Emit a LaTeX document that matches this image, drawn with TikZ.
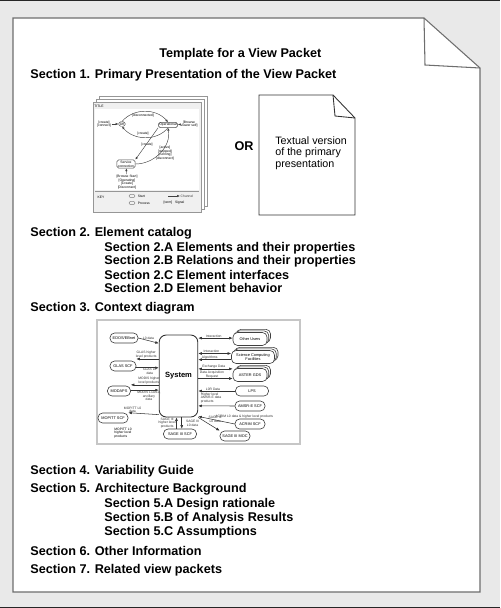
\documentclass[tikz,border=0pt]{standalone}
\usepackage{fontspec}
\setmainfont{Liberation Sans}
\usetikzlibrary{arrows.meta,positioning,shadows,shapes.geometric}
\definecolor{PageGrey}{RGB}{233,233,233}
\definecolor{EdgeGrey}{RGB}{110,110,110}
\definecolor{ThumbGrey}{RGB}{150,150,150}
\tikzset{
  heading/.style={font=\fontsize{7.2}{8}\selectfont\bfseries, anchor=base west,
    inner sep=0pt},
  pageline/.style={draw=EdgeGrey, line width=0.6pt},
  sheet/.style={draw=ThumbGrey, fill=white, line width=0.4pt},
  tinytext/.style={font=\fontsize{1.9}{2.1}\selectfont, inner sep=0.3pt, align=center},
  statebox/.style={draw=black!70, rounded corners=1pt, fill=white, line width=0.25pt,
    font=\fontsize{1.9}{2.1}\selectfont, inner sep=0.6pt, align=center},
  sysbox/.style={draw=black!80, rounded corners=4pt, fill=white, line width=0.5pt,
    minimum width=0.74cm, minimum height=1.64cm, font=\fontsize{4.3}{5}\selectfont\bfseries},
  extbox/.style={draw=black!75, rounded corners=2.6pt, fill=white, line width=0.35pt,
    minimum height=0.2cm, font=\fontsize{2.2}{2.4}\selectfont, align=center, inner sep=0.5pt},
  stacked/.style={double copy shadow={shadow xshift=1pt, shadow yshift=0.9pt}},
  flow/.style={-{Latex[length=2pt,width=1.6pt]}, line width=0.3pt, black!80},
  bothflow/.style={{Latex[length=2pt,width=1.6pt]}-{Latex[length=2pt,width=1.6pt]},
    line width=0.3pt, black!80},
  thinflow/.style={-{Latex[length=1.6pt,width=1.3pt]}, line width=0.25pt, black!75},
  keyshape/.style={draw=black!60, ellipse, minimum width=0.12cm, minimum height=0.07cm,
    inner sep=0pt, line width=0.2pt}
}
\begin{document}
\begin{tikzpicture}[x=0.02cm,y=-0.02cm]
  % backdrop and page
  \fill[PageGrey] (0,0) rectangle (500,608);
  \fill[black!85] (0,0) rectangle (500,1.5);
  \fill[black!85] (0,606.5) rectangle (500,608);
  \draw[pageline, fill=white] (13,18) -- (424,18) -- (480,68) -- (480,592)
    -- (13,592) -- cycle;
  \draw[pageline] (424,18) -- (425,65) -- (480,68);

  % headings
  \node[heading] (title) at (159,58) {Template for a View Packet};
  \node[heading] (sec1) at (30,79) {Section 1. Primary Presentation of the View Packet};
  \node[heading] (sec2) at (30,236.5) {Section 2. Element catalog};
  \node[heading] (sec2a) at (104,251.5) {Section 2.A Elements and their properties};
  \node[heading] (sec2b) at (104,264.5) {Section 2.B Relations and their properties};
  \node[heading] (sec2c) at (104,279) {Section 2.C Element interfaces};
  \node[heading] (sec2d) at (104,292.5) {Section 2.D Element behavior};
  \node[heading] (sec3) at (30,311.5) {Section 3. Context diagram};
  \node[heading] (sec4) at (30,474.5) {Section 4. Variability Guide};
  \node[heading] (sec5) at (30,492.5) {Section 5. Architecture Background};
  \node[heading] (sec5a) at (104,507.5) {Section 5.A Design rationale};
  \node[heading] (sec5b) at (104,521.5) {Section 5.B of Analysis Results};
  \node[heading] (sec5c) at (104,535.5) {Section 5.C Assumptions};
  \node[heading] (sec6) at (30,555.5) {Section 6. Other Information};
  \node[heading] (sec7) at (30,573.5) {Section 7. Related view packets};

  % primary presentation: stacked sheets with a state diagram
  \draw[sheet] (99,96) rectangle (207,206);
  \draw[sheet] (96,99) rectangle (204,209);
  \draw[sheet, fill=gray!12] (93,102) rectangle (201,212);
  \fill[white] (95,109) rectangle (199,190);
  \node[tinytext] (ttl) at (99,106) {TITLE};
  \node[statebox] (off) at (122,124) {Off};
  \node[statebox] (oper) at (168,125) {Operational};
  \node[statebox] (svc) at (126,164) {Service\\connection};
  \node[tinytext] (lin) at (104,124) {[create]\\{}[connect]};
  \node[tinytext] (lout) at (189,124) {[Browse\\Viewer self]};
  \node[tinytext] (ldisc) at (143,116) {[disconnected]};
  \node[tinytext] (lcre) at (143,134) {[create]};
  \node[tinytext] (ldiag) at (147,145) {[create]};
  \node[tinytext] (lact) at (165,153) {[active]\\{}[stopped]\\{}[running]\\{}[disconnect]};
  \node[tinytext] (lbot) at (127,182) {[Browse Start]\\{}[Operating]\\{}[Create]\\{}[Disconnect]};
  \draw[thinflow] (lin) -- (off);
  \draw[thinflow] (off.north) to[out=50,in=130] (oper.north);
  \draw[thinflow] (oper.south) to[out=-130,in=-50] (off.south);
  \draw[thinflow] (lout) -- (oper);
  \draw[thinflow] (oper.south west) -- (svc.north east);
  \draw[thinflow] (svc.east) to[out=0,in=-80] (oper.south);
  \draw[thinflow] (lbot) -- (svc);
  \draw[ThumbGrey, line width=0.3pt] (95,191) -- (199,191);
  \node[tinytext] (key) at (101,197) {KEY};
  \node[keyshape] (kstart) at (132,196) {};
  \node[tinytext, right=1pt of kstart] (kstxt) {Start};
  \node[keyshape] (kproc) at (132,203) {};
  \node[tinytext, right=1pt of kproc] (kptxt) {Process};
  \coordinate (kch) at (168,196);
  \draw[thinflow] (kch) -- ++(12,0) node[tinytext, right] (kctxt) {Channel};
  \node[tinytext] (kterm) at (174,203) {[term]~~~Signal};

  % textual alternative
  \node[font=\fontsize{7.2}{8}\selectfont\bfseries, inner sep=0pt] (or) at (244,146) {OR};
  \draw[line width=0.5pt, draw=black!80, fill=white] (259,95) -- (333,95) -- (355,118)
    -- (355,215) -- (259,215) -- cycle;
  \draw[line width=0.5pt, draw=black!80] (333,95) -- (335,116) -- (355,118);
  \node[font=\fontsize{6.1}{6.6}\selectfont, align=left, anchor=north west,
    inner sep=0pt] (textual) at (275,136) {Textual version\\of the primary\\presentation};

  % context diagram
  \draw[gray!45, fill=white, line width=0.6pt] (97,320) rectangle (300,444);
  \node[sysbox] (sys) at (178.5,376) {System};
  \node[extbox, minimum width=0.56cm] (edos) at (124,338) {EDOS/EBnet};
  \node[extbox, minimum width=0.52cm] (glas) at (123,366) {GLAS SCF};
  \node[extbox, minimum width=0.46cm] (modaps) at (119,391) {MODAPS};
  \node[extbox, minimum width=0.6cm] (mopitt) at (113,418) {MOPITT SCF};
  \node[extbox, minimum width=0.66cm] (sagescf) at (180,434) {SAGE III SCF};
  \node[extbox, minimum width=0.6cm] (sagemoc) at (235,436) {SAGE III MOC};
  \node[extbox, minimum width=0.6cm] (acrim) at (250,424) {ACRIM SCF};
  \node[extbox, minimum width=0.6cm] (amsr) at (250,406) {AMSR-E SCF};
  \node[extbox, minimum width=0.66cm] (lps) at (252,391) {LPS};
  \node[extbox, stacked, minimum width=0.68cm, minimum height=0.26cm] (aster) at (250,375) {ASTER GDS};
  \node[extbox, stacked, minimum width=0.86cm, minimum height=0.26cm] (sci) at (253,357) {Science Computing\\Facilities};
  \node[extbox, stacked, minimum width=0.68cm, minimum height=0.26cm] (users) at (250,339) {Other Users};

  % connectors, left side
  \draw[flow] (edos.east) -- ([yshift=-3pt]edos.east -| sys.west)
    node[tinytext, pos=0.5, above] {L0 data};
  \draw[flow] ([yshift=4pt]glas.east -| sys.west) -- ([yshift=4pt]glas.east)
    node[tinytext, pos=0.4, above, xshift=-2pt] {GLAS higher\\level products};
  \draw[flow] ([yshift=-1pt]glas.east) -- ([yshift=-1pt]glas.east -| sys.west)
    node[tinytext, pos=0.6, below] {GLAS L0\\data};
  \draw[flow] ([yshift=3.5pt]modaps.east -| sys.west) -- ([yshift=3.5pt]modaps.east)
    node[tinytext, pos=0.35, above] {MODIS higher\\level products};
  \draw[flow] ([yshift=0.5pt]modaps.east) -- ([yshift=0.5pt]modaps.east -| sys.west)
    node[tinytext, pos=0.65, below] {MODIS L1A/L0,\\ancillary\\data};
  \draw[flow] ([yshift=-22pt]sys.west) -- (mopitt.north east)
    node[tinytext, pos=0.55, above left] {MOPITT L0\\data};
  \node[tinytext, align=left] (mopittlbl) at (123,433) {MOPITT L0\\higher level\\products};

  % connectors, bottom
  \draw[flow] ([xshift=-2pt]sagescf.north) -- ([xshift=-2pt]sagescf.north |- sys.south)
    node[tinytext, pos=0.5, left] {SAGE III\\higher level\\products};
  \draw[flow] ([xshift=1pt]sagescf.north |- sys.south) -- ([xshift=1pt]sagescf.north)
    node[tinytext, pos=0.5, right, xshift=2pt] {SAGE III\\L0 data};
  \draw[flow] (sys.south east) -- (sagemoc.north west)
    node[tinytext, pos=0.45, above right] {SAGE III\\L0 data};

  % connectors, right side
  \draw[bothflow] ([yshift=0.5pt]users.west) -- ([yshift=0.5pt]users.west -| sys.east)
    node[tinytext, pos=0.55, above] {Interaction};
  \draw[bothflow] ([yshift=2pt]sci.west) -- ([yshift=2pt]sci.west -| sys.east)
    node[tinytext, pos=0.6, above] {Interaction};
  \draw[flow] ([yshift=-1.5pt]sci.west) -- ([yshift=-1.5pt]sci.west -| sys.east)
    node[tinytext, pos=0.65, above] {Algorithms};
  \draw[bothflow] ([yshift=3.5pt]aster.west) -- ([yshift=3.5pt]aster.west -| sys.east)
    node[tinytext, pos=0.55, above] {Exchange Data};
  \draw[flow] ([yshift=-2pt]aster.west -| sys.east) -- ([yshift=-2pt]aster.west)
    node[tinytext, pos=0.4, above] {Data Acquisition\\Request};
  \draw[flow] (lps.west) -- (lps.west -| sys.east)
    node[tinytext, pos=0.6, above] {L0R Data};
  \draw[flow] (amsr.west) -- ([yshift=-17pt]sys.east)
    node[tinytext, pos=0.95, anchor=south west, align=left, yshift=1pt] {Higher level\\AMSR-E data\\products};
  \draw[flow] (acrim.west) -- ([yshift=-23pt]sys.east)
    node[tinytext, pos=0.55, anchor=south west, yshift=0.3pt] {ACRIM L0 data \& higher level products};
\end{tikzpicture}
\end{document}
